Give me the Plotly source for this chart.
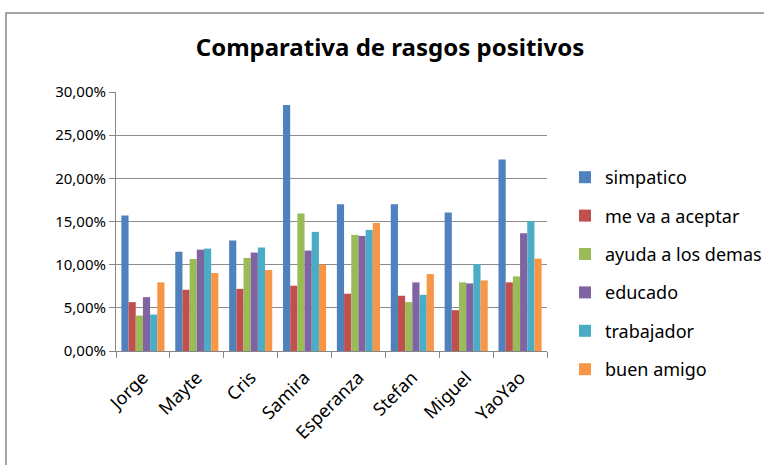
import plotly.graph_objects as go

categories = ["Jorge", "Mayte", "Cris", "Samira", "Esperanza", "Stefan", "Miguel", "YaoYao"]
simpatico = [0.157, 0.115, 0.128, 0.285, 0.170, 0.170, 0.1605, 0.2217]
me_va_a_aceptar = [0.0566, 0.0709, 0.072, 0.0756, 0.0663, 0.064, 0.0473, 0.0795]
ayuda_a_los_demas = [0.041, 0.1066, 0.1078, 0.1593, 0.1345, 0.0566, 0.0795, 0.0864]
educado = [0.0624, 0.1174, 0.114, 0.1163, 0.1333, 0.0795, 0.0783, 0.1364]
trabajador = [0.0422, 0.1186, 0.1198, 0.138, 0.1403, 0.0651, 0.1008, 0.1504]
buen_amigo = [0.0795, 0.0903, 0.0938, 0.100, 0.1484, 0.0891, 0.0818, 0.107]

series = [
    ("simpatico", simpatico, "#4F81BD"),
    ("me va a aceptar", me_va_a_aceptar, "#C0504D"),
    ("ayuda a los demas", ayuda_a_los_demas, "#9BBB59"),
    ("educado", educado, "#8064A2"),
    ("trabajador", trabajador, "#4BACC6"),
    ("buen amigo", buen_amigo, "#F79646"),
]

fig = go.Figure()
for i, (name, vals, color) in enumerate(series):
    fig.add_trace(go.Bar(x=categories, y=vals, name=name, marker_color=color,
                         marker_line_width=0, legendgroup=f"g{i}"))

W, H = 764, 465
ml, mr, mt, mb = 116, 217, 92, 114
pw, ph = W - ml - mr, H - mt - mb

def px_x(p):
    return (p - ml) / pw

def px_y(p):
    return (H - mb - p) / ph

fig.update_layout(
    width=W, height=H,
    margin=dict(l=ml, r=mr, t=mt, b=mb, pad=0, autoexpand=False),
    paper_bgcolor="white", plot_bgcolor="white",
    separators=",.",
    barmode="group", bargap=0.2, bargroupgap=0,
    font=dict(family="Noto Sans", color="#000000"),
    title=dict(text="Comparativa de rasgos positivos", x=390 / W, xanchor="center",
               y=1 - 48 / H, yanchor="middle", yref="container",
               font=dict(size=24, family="Noto Sans", color="#000000", weight="bold")),
    legend=dict(x=px_x(565), xanchor="left", y=px_y(159), yanchor="top",
                font=dict(size=18, color="#000000"), tracegroupgap=12,
                itemwidth=30, bgcolor="rgba(0,0,0,0)"),
    xaxis=dict(type="category", tickson="boundaries", ticks="outside", ticklen=6,
               tickcolor="#868686", showline=True, linecolor="#868686", linewidth=1,
               showgrid=False, tickangle=-45, ticklabelstandoff=8,
               tickfont=dict(size=18, color="#000000")),
    yaxis=dict(range=[0, 0.30], dtick=0.05, tickformat=".2%", ticks="outside", ticklen=6,
               tickcolor="#868686", showline=True, linecolor="#868686", linewidth=1,
               showgrid=True, gridcolor="#8C8C8C", gridwidth=1,
               tickfont=dict(size=15, color="#000000"), zeroline=False),
    shapes=[dict(type="rect", xref="paper", yref="paper",
                 x0=px_x(6), x1=px_x(780), y0=px_y(480), y1=px_y(13),
                 line=dict(color="#868686", width=1.5), fillcolor="rgba(0,0,0,0)", layer="below")],
)

fig.write_html("out.html", config={"displayModeBar": False},
               post_script="document.body.style.margin='0';document.body.style.overflow='hidden';")
